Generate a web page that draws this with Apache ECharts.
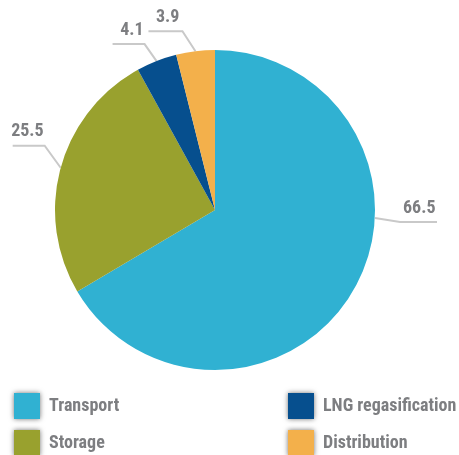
<!DOCTYPE html>
<html>
<head>
<meta charset="utf-8">
<script src="https://cdn.jsdelivr.net/npm/echarts@6/dist/echarts.min.js"></script>
<style>
  html, body { margin: 0; padding: 0; background: #fff; }
  #chart { width: 459px; height: 455px; }
</style>
</head>
<body>
<div id="chart"></div>
<script>
// Cost breakdown pie - values in percent
const categories = ['Transport', 'Storage', 'LNG regasification', 'Distribution'];
const values = [66.5, 25.5, 4.1, 3.9];
const colors = ['#30b1d2', '#99a12e', '#064f8e', '#f3b04b'];

const FONT = "'Liberation Sans Narrow', 'Roboto Condensed', Roboto, sans-serif";
const GREY = '#7d7e81';

// label-line shape per slice: [bend dx, bend dy, horizontal run]
const lineShape = [
  [25, 4, 37],
  [-16, -22, -32],
  [-12, -17, -32],
  [-13, -20, -34]
];

const chart = echarts.init(document.getElementById('chart'));

const legendBase = {
  orient: 'vertical',
  top: 393,
  height: 80,
  padding: 0,
  itemWidth: 26,
  itemHeight: 26,
  itemGap: 11,
  icon: 'rect',
  selectedMode: false,
  itemStyle: {
    shadowBlur: 5,
    shadowColor: 'rgba(0, 0, 0, 0.55)'
  },
  textStyle: {
    color: GREY,
    fontFamily: FONT,
    fontWeight: 'bold',
    fontSize: 18,
    padding: [0, 0, 0, 4]
  }
};

const option = {
  color: colors,
  animation: false,
  legend: [
    Object.assign({}, legendBase, { left: 14, data: [categories[0], categories[1]] }),
    Object.assign({}, legendBase, { left: 288, data: [categories[2], categories[3]] })
  ],
  series: [
    {
      type: 'pie',
      center: [215, 210],
      radius: 160,
      startAngle: 90,
      clockwise: true,
      avoidLabelOverlap: false,
      data: categories.map((name, i) => ({ name, value: values[i] })),
      label: {
        show: true,
        formatter: (p) => p.value.toFixed(1),
        color: GREY,
        fontFamily: FONT,
        fontWeight: 'bold',
        fontSize: 18
      },
      labelLine: {
        show: true,
        length: 20,
        length2: 35,
        lineStyle: { color: '#c9c9c9', width: 2 }
      },
      labelLayout: (params) => {
        const s = lineShape[params.dataIndex];
        let p0 = params.labelLinePoints[0];
        if (params.dataIndex === 0) {
          // the big slice's label sits beside the pie's right edge
          p0 = [params.rect.x + params.rect.width, params.rect.y + params.rect.height / 2 + 8];
        }
        const p1 = [p0[0] + s[0], p0[1] + s[1]];
        const p2 = [p1[0] + s[2], p1[1]];
        const right = s[2] > 0;
        return {
          x: right ? p2[0] - 34 : p2[0] + 31,
          y: p2[1] - 14,
          align: right ? 'left' : 'right',
          verticalAlign: 'middle',
          labelLinePoints: [p0, p1, p2]
        };
      },
      emphasis: { disabled: true }
    }
  ]
};

chart.setOption(option);
</script>
</body>
</html>
